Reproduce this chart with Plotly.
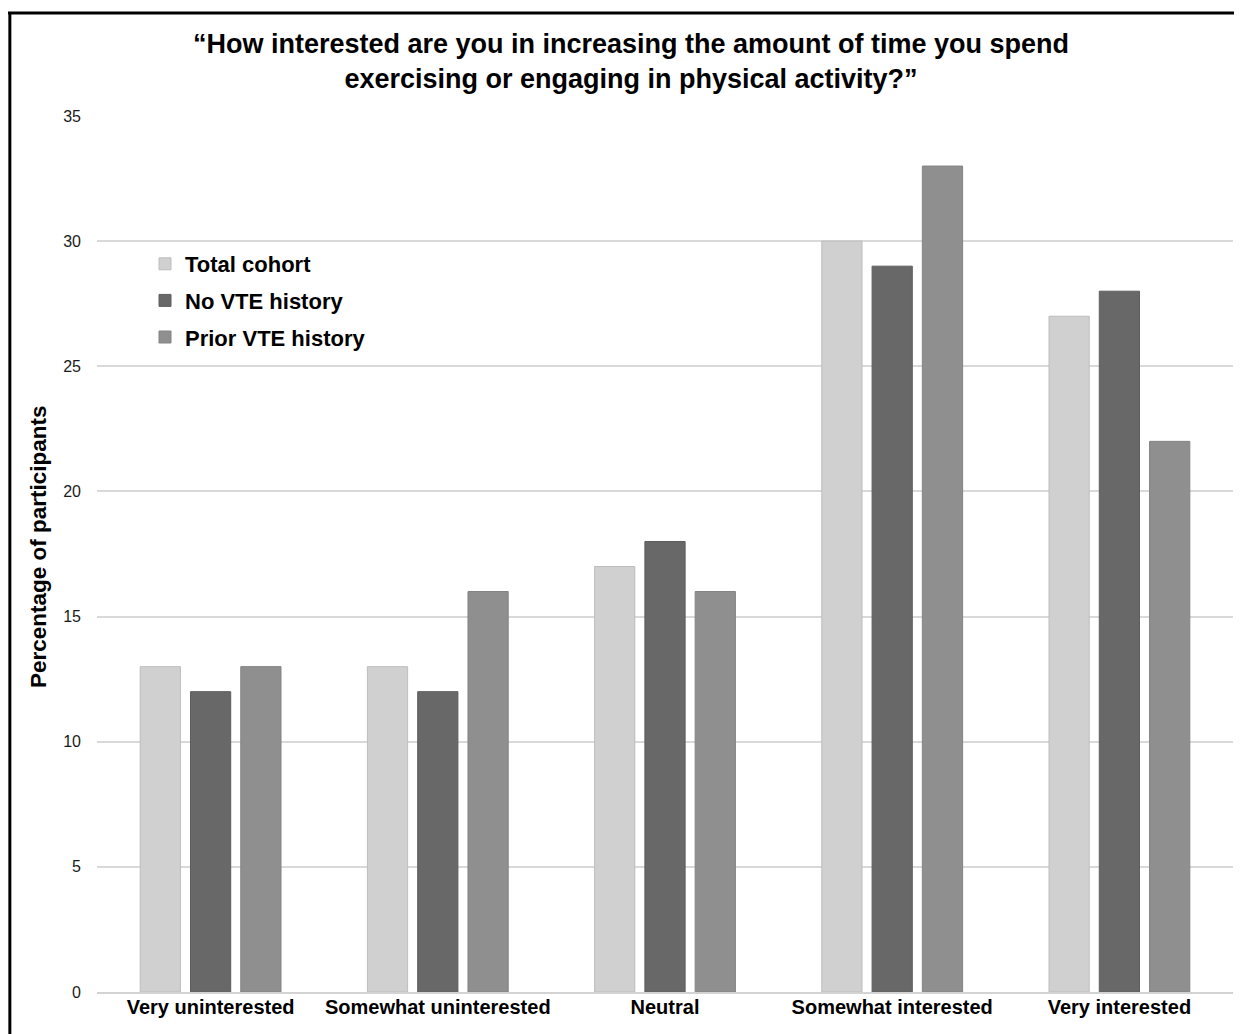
import plotly.graph_objects as go

categories = ["Very uninterested", "Somewhat uninterested", "Neutral",
              "Somewhat interested", "Very interested"]
total_cohort = [13, 13, 17, 30, 27]
no_vte = [12, 12, 18, 29, 28]
prior_vte = [13, 16, 16, 33, 22]
series_names = ["Total cohort", "No VTE history", "Prior VTE history"]
series_colors = ["#d0d0d0", "#686868", "#8f8f8f"]
edge_colors = ["#bdbdbd", "#5e5e5e", "#838383"]
y_ticks = [0, 5, 10, 15, 20, 25, 30, 35]

# the page body has an 8px margin; map page pixels to paper coords
OFF = 8
W, H = 1242 - OFF, 1034 - OFF


def xp(px):
    return (px - OFF) / W


def yp(py):
    return 1 - (py - OFF) / H


SANS = "Liberation Sans, Arial, sans-serif"

fig = go.Figure()
for name, vals, col, ec in zip(series_names, [total_cohort, no_vte, prior_vte],
                               series_colors, edge_colors):
    fig.add_trace(go.Bar(x=categories, y=vals, name=name, legendgroup=name,
                         marker=dict(color=col, line=dict(color=ec, width=1))))

fig.update_layout(
    width=W, height=H,
    margin=dict(l=0, r=0, t=0, b=0),
    paper_bgcolor="white", plot_bgcolor="white",
    barmode="group", bargap=0.336, bargroupgap=0.2,
    title=dict(text="“How interested are you in increasing the amount of time you spend<br>"
                    "exercising or engaging in physical activity?”",
               x=xp(631), xanchor="center", y=yp(53), yanchor="middle",
               font=dict(family=SANS, size=27, color="black", weight="bold")),
    xaxis=dict(domain=[xp(97), xp(1233)], showgrid=False, showline=True,
               linecolor="#d3d3d3", linewidth=2, ticks="", automargin=False,
               tickfont=dict(family=SANS, size=20, color="black", weight="bold"),
               ticklabelstandoff=-4),
    yaxis=dict(domain=[yp(992), yp(116)], range=[0, 35], tickvals=y_ticks,
               showgrid=True, gridcolor="#d9d9d9", gridwidth=2, zeroline=False,
               showline=False, ticks="", automargin=False,
               tickfont=dict(family=SANS, size=16, color="#1a1a1a"),
               ticklabelstandoff=15),
    legend=dict(x=xp(145), y=yp(243), xanchor="left", yanchor="top",
                bgcolor="rgba(0,0,0,0)", itemwidth=30, traceorder="grouped",
                tracegroupgap=5,
                font=dict(family=SANS, size=22, color="black", weight="bold")),
    showlegend=True,
    annotations=[dict(text="Percentage of participants", x=xp(38), y=yp(547),
                      xref="paper", yref="paper", showarrow=False, textangle=-90,
                      xanchor="center", yanchor="middle",
                      font=dict(family=SANS, size=22.5, color="black", weight="bold"))],
    shapes=[
        dict(type="line", xref="paper", yref="paper", x0=0.0015, x1=0.0015,
             y0=0, y1=yp(13), line=dict(color="black", width=3)),
        dict(type="line", xref="paper", yref="paper", x0=0, x1=1,
             y0=yp(13), y1=yp(13), line=dict(color="black", width=3)),
    ],
)

fig.write_html("out.html")
